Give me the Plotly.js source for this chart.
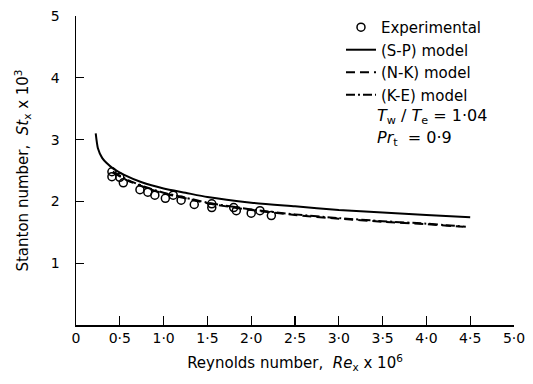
<!DOCTYPE html>
<html>
<head>
<meta charset="utf-8">
<script src="https://cdn.plot.ly/plotly-3.0.1.min.js"></script>
<style>html,body{margin:0;padding:0;background:#fff;}#chart{width:533px;height:384px;}</style>
</head>
<body>
<div id="chart"></div>
<script>
// Experimental data (Re_x x 1e-6, St_x x 1e3)
const expRe = [0.41, 0.41, 0.50, 0.54, 0.73, 0.82, 0.90, 1.02, 1.11, 1.20, 1.35, 1.55, 1.55, 1.80, 1.83, 2.00, 2.10, 2.23];
const expSt = [2.48, 2.40, 2.39, 2.30, 2.19, 2.15, 2.10, 2.05, 2.10, 2.02, 1.95, 1.96, 1.90, 1.90, 1.85, 1.81, 1.85, 1.77];

// (S-P) model
const spRe = [0.225, 0.25, 0.30, 0.35, 0.425, 0.55, 0.75, 1.0, 1.25, 1.5, 2.0, 2.5, 3.0, 3.5, 4.0, 4.5];
const spSt = [3.10, 2.86, 2.70, 2.62, 2.53, 2.43, 2.31, 2.21, 2.14, 2.07, 1.98, 1.92, 1.86, 1.82, 1.78, 1.745];

// (N-K) model
const nkRe = [0.42, 0.6, 0.8, 1.0, 1.25, 1.5, 2.0, 2.5, 3.0, 3.5, 4.0, 4.42];
const nkSt = [2.47, 2.33, 2.22, 2.13, 2.05, 1.97, 1.86, 1.78, 1.72, 1.67, 1.63, 1.59];

// (K-E) model
const keRe = [0.42, 0.6, 0.8, 1.0, 1.25, 1.5, 2.0, 2.5, 3.0, 3.5, 4.0, 4.45];
const keSt = [2.48, 2.34, 2.23, 2.14, 2.06, 1.98, 1.87, 1.79, 1.73, 1.68, 1.64, 1.59];

const xTickVals = [0, 0.5, 1.0, 1.5, 2.0, 2.5, 3.0, 3.5, 4.0, 4.5, 5.0];
const xTickText = ["0", "0·5", "1·0", "1·5", "2·0", "2·5", "3·0", "3·5", "4·0", "4·5", "5·0"];
const yTickVals = [1, 2, 3, 4, 5];
const yTickText = ["1", "2", "3", "4", "5"];

const FONT = "DejaVu Sans, sans-serif";

const traces = [
  {x: expRe, y: expSt, type: "scatter", mode: "markers", name: "Experimental",
   marker: {symbol: "circle-open", size: 8, color: "#000", line: {width: 1.5, color: "#000"}}},
  {x: spRe, y: spSt, type: "scatter", mode: "lines", name: "(S-P) model",
   line: {color: "#000", width: 2, shape: "spline", smoothing: 0.6}},
  {x: nkRe, y: nkSt, type: "scatter", mode: "lines", name: "(N-K) model",
   line: {color: "#000", width: 2, dash: "9px,5px", shape: "spline", smoothing: 0.6}},
  {x: keRe, y: keSt, type: "scatter", mode: "lines", name: "(K-E) model",
   line: {color: "#000", width: 2, dash: "9px,3px,2px,3px", shape: "spline", smoothing: 0.6}}
];

const layout = {
  width: 533, height: 384,
  margin: {l: 76, r: 19, t: 15, b: 59},
  paper_bgcolor: "#fff", plot_bgcolor: "#fff",
  font: {family: FONT, color: "#000", size: 14},
  showlegend: true,
  legend: {x: 0.605, y: 1.013, xanchor: "left", yanchor: "top",
           font: {family: FONT, size: 15, color: "#000"}, bgcolor: "rgba(0,0,0,0)",
           tracegroupgap: 0},
  xaxis: {range: [0, 5], showline: true, linecolor: "#000", linewidth: 1.5,
          showgrid: false, zeroline: false, ticks: "inside", ticklen: 9, tickwidth: 1.2, tickcolor: "#000",
          tickvals: xTickVals, ticktext: xTickText, tickfont: {size: 14},
          title: {text: "Reynolds number,  <i>Re</i><sub>x</sub> x 10<sup>6</sup>", font: {size: 15}, standoff: 12},
          automargin: false},
  yaxis: {range: [0, 5], showline: true, linecolor: "#000", linewidth: 1.5,
          showgrid: false, zeroline: false, ticks: "inside", ticklen: 8, tickwidth: 1.2, tickcolor: "#000",
          tickvals: yTickVals, ticktext: yTickText, tickfont: {size: 14}, ticklabelstandoff: 12,
          title: {text: "Stanton number,  <i>St</i><sub>x</sub> x 10<sup>3</sup>", font: {size: 15}, standoff: 18},
          automargin: false},
  annotations: [
    {x: 3.41, y: 3.37, xref: "x", yref: "y", xanchor: "left", yanchor: "middle", showarrow: false,
     text: "<i>T</i><sub>w</sub> / <i>T</i><sub>e</sub> = 1·04", font: {family: FONT, size: 16, color: "#000"}},
    {x: 3.41, y: 3.02, xref: "x", yref: "y", xanchor: "left", yanchor: "middle", showarrow: false,
     text: "<i>Pr</i><sub>t</sub>  = 0·9", font: {family: FONT, size: 16, color: "#000"}}
  ]
};

Plotly.newPlot("chart", traces, layout, {displayModeBar: false, staticPlot: true});
</script>
</body>
</html>
